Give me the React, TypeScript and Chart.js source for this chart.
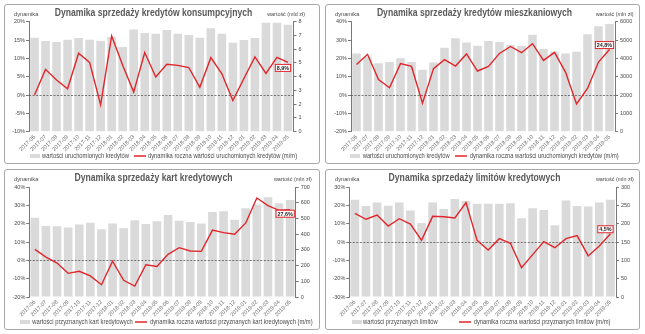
import React, { useEffect, useRef } from "react";
import { Chart, registerables } from "chart.js";
Chart.register(...registerables);

const months = [
  "2017-06", "2017-07", "2017-08", "2017-09", "2017-10", "2017-11", "2017-12",
  "2018-01", "2018-02", "2018-03", "2018-04", "2018-05", "2018-06", "2018-07",
  "2018-08", "2018-09", "2018-10", "2018-11", "2018-12", "2019-01", "2019-02",
  "2019-03", "2019-04", "2019-05",
];

// kredyty konsumpcyjne (mld zł) / dynamika %
const consumerValues = [6.84, 6.59, 6.52, 6.69, 6.81, 6.69, 6.59, 6.88, 6.16, 7.44, 7.18, 7.13, 7.39, 7.13, 7.03, 6.84, 7.52, 7.13, 6.47, 6.67, 6.81, 7.93, 7.93, 7.78];
const consumerGrowth = [0.0, 7.0, 4.1, 1.7, 11.4, 8.9, -2.7, 16.1, 8.1, 0.8, 11.6, 4.9, 8.4, 8.1, 7.5, 2.1, 10.2, 5.8, -1.5, 4.5, 10.4, 5.9, 10.3, 8.9];

// kredyty mieszkaniowe (mln zł) / dynamika %
const mortgageValues = [4270, 4090, 3730, 3800, 4000, 3800, 3380, 3780, 4580, 5100, 4870, 4690, 4950, 4890, 4730, 4670, 5290, 4510, 4360, 4270, 4360, 5310, 5750, 5870];
const mortgageGrowth = [16.7, 22.2, 8.5, 4.0, 17.1, 15.6, -4.4, 14.4, 19.3, 15.8, 22.4, 13.1, 15.6, 22.7, 26.5, 23.1, 28.0, 18.9, 23.3, 12.5, -4.9, 3.6, 18.0, 24.8];

// karty kredytowe (mln zł) / dynamika %
const cardValues = [505, 452, 450, 443, 462, 473, 431, 467, 437, 488, 465, 482, 522, 486, 477, 467, 541, 545, 492, 564, 588, 634, 596, 617];
const cardGrowth = [6.0, 1.8, -1.5, -7.1, -6.0, -8.5, -13.3, -0.5, -10.9, -14.0, -2.4, -3.3, 3.3, 6.9, 5.1, 4.9, 16.5, 15.1, 14.2, 20.4, 34.0, 29.8, 27.3, 27.6];

// limity kredytowe (mln zł) / dynamika %
const limitValues = [265, 248, 258, 249, 258, 236, 202, 258, 240, 267, 262, 254, 254, 254, 256, 215, 242, 237, 196, 263, 248, 247, 258, 265];
const limitGrowth = [15.6, 12.4, 14.7, 8.7, 12.7, 9.8, 0.9, 14.0, 13.8, 13.1, 21.5, 0.9, -4.4, 1.8, -0.7, -14.0, -6.9, 0.2, -3.1, 1.8, 3.5, -7.6, -2.2, 4.5];

const SANS = "'Liberation Sans', Arial, sans-serif";
const RED = "#e0262b";
const BAR = "#dadada";
const TXT = "#4a4a4a";

type PanelCfg = {
  x: number; y: number; w: number; h: number;
  title: string; rightHeader: string; headerRight: number;
  bars: number[]; line: number[];
  yMin: number; yMax: number; yStep: number;
  y1Min: number; y1Max: number; y1Step: number;
  area: { l: number; r: number; t: number; b: number };
  legendBar: string; legendLine: string;
  lg: { box: number; t1: number; line: number; t2: number };
  labelDy: number;
};

const panels: PanelCfg[] = [
  {
    x: 4, y: 4, w: 316, h: 160,
    title: "Dynamika sprzedaży kredytów konsumpcyjnych", rightHeader: "wartość (mld zł)", headerRight: 300,
    bars: consumerValues, line: consumerGrowth,
    yMin: -10, yMax: 20, yStep: 5, y1Min: 0, y1Max: 8, y1Step: 1,
    area: { l: 24, r: 288.5, t: 16.7, b: 126.7 },
    legendBar: "wartości uruchomionych kredytów",
    legendLine: "dynamika roczna wartości uruchomionych kredytów (m/m)",
    lg: { box: 25, t1: 37, line: 129, t2: 143 }, labelDy: 5.5,
  },
  {
    x: 325, y: 4, w: 315, h: 160,
    title: "Dynamika sprzedaży kredytów mieszkaniowych", rightHeader: "wartość (mln zł)", headerRight: 307.5,
    bars: mortgageValues, line: mortgageGrowth,
    yMin: -20, yMax: 40, yStep: 10, y1Min: 0, y1Max: 6000, y1Step: 500,
    area: { l: 25, r: 289, t: 16.7, b: 126.7 },
    legendBar: "wartości uruchomionych kredytów",
    legendLine: "dynamika roczna wartości uruchomionych kredytów (m/m)",
    lg: { box: 24, t1: 36.7, line: 129, t2: 143.7 }, labelDy: -4.5,
  },
  {
    x: 4, y: 169, w: 316, h: 161,
    title: "Dynamika sprzedaży kart kredytowych", rightHeader: "wartość (mln zł)", headerRight: 306.7,
    bars: cardValues, line: cardGrowth,
    yMin: -20, yMax: 40, yStep: 5, y1Min: 0, y1Max: 700, y1Step: 100,
    area: { l: 24.3, r: 290.7, t: 17, b: 127 },
    legendBar: "wartości przyznanych kart kredytowych",
    legendLine: "dynamika roczna wartości przyznanych kart kredytowych (m/m)",
    lg: { box: 15, t1: 27.3, line: 130, t2: 145 }, labelDy: 4,
  },
  {
    x: 325, y: 169, w: 315, h: 161,
    title: "Dynamika sprzedaży limitów kredytowych", rightHeader: "wartość (mln zł)", headerRight: 307.7,
    bars: limitValues, line: limitGrowth,
    yMin: -30, yMax: 30, yStep: 5, y1Min: 0, y1Max: 300, y1Step: 50,
    area: { l: 23.3, r: 290, t: 17, b: 127 },
    legendBar: "wartości przyznanych limitów",
    legendLine: "dynamika roczna wartości przyznanych limitów (m/m)",
    lg: { box: 26, t1: 37, line: 133, t2: 147.7 }, labelDy: -4.5,
  },
];

function drawText(ctx: CanvasRenderingContext2D, s: string, x: number, y: number, align: CanvasTextAlign, sx: number) {
  ctx.save();
  ctx.translate(x, y);
  ctx.scale(sx, 1);
  ctx.textAlign = align;
  ctx.textBaseline = "middle";
  ctx.fillText(s, 0, 0);
  ctx.restore();
}

function Panel({ cfg }: { cfg: PanelCfg }) {
  const ref = useRef<HTMLCanvasElement | null>(null);
  const W = cfg.w - 2;
  const H = cfg.h - 2;
  useEffect(() => {
    const canvas = ref.current;
    if (!canvas) return;
    const XH = 20;
    const overlay = {
      id: "overlay",
      beforeDatasetDraw(chart: any, args: any) {
        if (args.index !== 1) return;
        const ctx = chart.ctx;
        const y = Math.round(chart.scales.y.getPixelForValue(0)) + 0.5;
        const { left, right } = chart.chartArea;
        ctx.save();
        ctx.strokeStyle = "#555";
        ctx.lineWidth = 0.8;
        ctx.setLineDash([2, 1.5]);
        ctx.beginPath();
        ctx.moveTo(left, y);
        ctx.lineTo(right, y);
        ctx.stroke();
        ctx.restore();
      },
      afterDatasetsDraw(chart: any) {
        const ctx = chart.ctx;
        const meta = chart.getDatasetMeta(1);
        const last = cfg.line.length - 1;
        const pt = meta.data[last];
        const text = cfg.line[last].toFixed(1).replace(".", ",") + "%";
        ctx.save();
        ctx.font = `bold 6px ${SANS}`;
        const sx = 0.9;
        const tw = ctx.measureText(text).width * sx;
        const bw = tw + 3;
        const bh = 7;
        const cx = pt.x - 5;
        const cy = pt.y + cfg.labelDy;
        ctx.fillStyle = "#fff";
        ctx.fillRect(cx - bw / 2, cy - bh / 2, bw, bh);
        ctx.strokeStyle = RED;
        ctx.lineWidth = 1;
        ctx.strokeRect(cx - bw / 2, cy - bh / 2, bw, bh);
        ctx.fillStyle = "#222";
        drawText(ctx, text, cx, cy + 0.5, "center", sx);
        ctx.restore();
      },
      afterDraw(chart: any) {
        const ctx = chart.ctx;
        ctx.save();
        // title
        ctx.font = `bold 10.5px ${SANS}`;
        ctx.fillStyle = "#595959";
        drawText(ctx, cfg.title, 148.5, 8, "center", 0.82);
        // headers
        ctx.font = `6px ${SANS}`;
        ctx.fillStyle = TXT;
        drawText(ctx, "dynamika", 9, 9.5, "left", 0.95);
        drawText(ctx, cfg.rightHeader, cfg.headerRight, 9.5, "right", 0.9);
        // legend
        const ly = H - 7;
        ctx.fillStyle = BAR;
        ctx.fillRect(cfg.lg.box, ly - 2, 10, 4);
        ctx.strokeStyle = RED;
        ctx.lineWidth = 1.5;
        ctx.beginPath();
        ctx.moveTo(cfg.lg.line, ly);
        ctx.lineTo(cfg.lg.line + 12, ly);
        ctx.stroke();
        ctx.fillStyle = TXT;
        ctx.font = `6.3px ${SANS}`;
        drawText(ctx, cfg.legendBar, cfg.lg.t1, ly + 0.5, "left", 0.92);
        drawText(ctx, cfg.legendLine, cfg.lg.t2, ly + 0.5, "left", 0.92);
        ctx.restore();
      },
    };
    const tickFont = { family: SANS, size: 5.5 };
    const chart = new Chart(canvas, {
      type: "bar",
      data: {
        labels: months,
        datasets: [
          {
            type: "bar",
            data: cfg.bars,
            backgroundColor: BAR,
            yAxisID: "y1",
            order: 2,
            barPercentage: 0.78,
            categoryPercentage: 1,
          } as any,
          {
            type: "line",
            data: cfg.line,
            borderColor: RED,
            borderWidth: 1.4,
            pointRadius: 0,
            tension: 0,
            yAxisID: "y",
            order: 1,
          } as any,
        ],
      },
      options: {
        animation: false,
        responsive: false,
        maintainAspectRatio: false,
        layout: { padding: { top: cfg.area.t, bottom: H - cfg.area.b - XH, left: 0, right: 0 } },
        plugins: { legend: { display: false }, title: { display: false }, tooltip: { enabled: false } },
        scales: {
          x: {
            grid: { display: false, drawTicks: false },
            border: { display: false },
            ticks: {
              autoSkip: false, minRotation: 45, maxRotation: 45, padding: 2,
              font: { family: SANS, size: 5.5 }, color: "#666",
            },
            afterFit: (s: any) => { s.height = XH; s.paddingLeft = 0; s.paddingRight = 0; },
          },
          y: {
            position: "left",
            min: cfg.yMin, max: cfg.yMax,
            grid: { drawOnChartArea: false, drawTicks: true, tickLength: 3, color: "#555", lineWidth: 0.8 },
            border: { display: true, color: "#555", width: 0.8 },
            ticks: {
              stepSize: cfg.yStep, padding: 1, font: tickFont, color: TXT,
              callback: (v: any) => `${v}%`,
            },
            afterFit: (s: any) => { s.width = cfg.area.l; },
          },
          y1: {
            position: "right",
            min: cfg.y1Min, max: cfg.y1Max,
            grid: { drawOnChartArea: false, drawTicks: true, tickLength: 3, color: "#555", lineWidth: 0.8 },
            border: { display: true, color: "#555", width: 0.8 },
            ticks: {
              stepSize: cfg.y1Step, padding: 2, font: tickFont, color: TXT,
              callback: (v: any) => String(v),
            },
            afterFit: (s: any) => { s.width = W - cfg.area.r; },
          },
        },
      } as any,
      plugins: [overlay],
    });
    return () => chart.destroy();
  }, [cfg]);
  return (
    <div
      style={{
        position: "absolute", left: cfg.x, top: cfg.y, width: cfg.w, height: cfg.h,
        boxSizing: "border-box", border: "1px solid #a8a8a8", borderRadius: 3, background: "#fff",
      }}
    >
      <canvas ref={ref} width={W} height={H} style={{ display: "block", width: W, height: H }} />
    </div>
  );
}

export default function App() {
  return (
    <div style={{ position: "absolute", left: 0, top: 0, width: 645, height: 334, background: "#fff" }}>
      {panels.map((p, i) => (
        <Panel key={i} cfg={p} />
      ))}
    </div>
  );
}
